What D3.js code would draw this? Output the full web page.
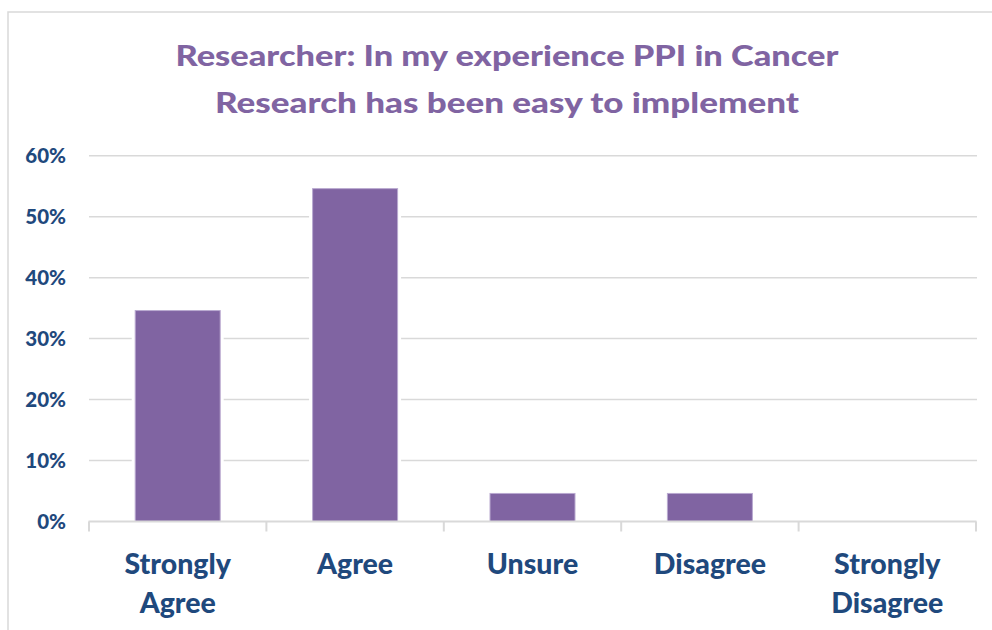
<!DOCTYPE html>
<html><head><meta charset="utf-8">
<script src="https://cdn.jsdelivr.net/npm/d3@7"></script>
<style>body{margin:0;background:#fff;}svg{display:block;}</style>
</head><body>
<script>
const categories = [["Strongly","Agree"],["Agree"],["Unsure"],["Disagree"],["Strongly","Disagree"]];
const values = [34.6, 54.6, 4.6, 4.6, 0];
const yTicks = [0, 10, 20, 30, 40, 50, 60];
const titleLines = ["Researcher: In my experience PPI in Cancer", "Research has been easy to implement"];

const W = 992, H = 630;
const FONT = "Lato, 'Open Sans', sans-serif";
const purple = "#8064A2", navy = "#1F497D", grid = "#D9D9D9";

const svg = d3.select("body").append("svg").attr("width", W).attr("height", H);
svg.append("rect").attr("width", W).attr("height", H).attr("fill", "#fff");
// chart frame
svg.append("rect").attr("x", 8).attr("y", 12).attr("width", W + 20).attr("height", H + 20)
  .attr("fill", "none").attr("stroke", grid).attr("stroke-width", 1.5);

const x = d3.scaleBand().domain(d3.range(categories.length)).range([89, 976]).paddingInner(0).paddingOuter(0);
const y = d3.scaleLinear().domain([0, 60]).range([521.5, 155.7]);

// title
const titleG = svg.append("g");
titleLines.forEach((t, i) => {
  titleG.append("text").attr("x", 507).attr("y", 65.5 + i * 47.5)
    .attr("text-anchor", "middle").attr("font-family", FONT).attr("font-weight", 900)
    .attr("font-size", 29).attr("fill", purple)
    .attr("textLength", i === 0 ? 663 : 584).attr("lengthAdjust", "spacingAndGlyphs")
    .text(t);
});

// gridlines
svg.append("g").selectAll("line").data(yTicks.filter(d => d > 0)).join("line")
  .attr("x1", 89).attr("x2", 977).attr("y1", d => y(d)).attr("y2", d => y(d))
  .attr("stroke", grid).attr("stroke-width", 1.5);

// y labels
svg.append("g").selectAll("text").data(yTicks).join("text")
  .attr("x", 66).attr("y", d => y(d)).attr("dy", "0.36em").attr("text-anchor", "end")
  .attr("font-family", FONT).attr("font-weight", 900).attr("font-size", 20.5).attr("fill", navy)
  .text(d => d + "%");

// bars
const bw = 85;
const bars = svg.append("g");
bars.selectAll("rect.under").data(values).join("rect").attr("class", "under")
  .attr("x", (d, i) => x(i) + x.bandwidth() / 2 - bw / 2).attr("width", bw)
  .attr("y", d => y(d)).attr("height", d => y(0) - y(d))
  .attr("fill", "#fff").attr("stroke", "#fff").attr("stroke-width", d => d > 0 ? 7 : 0);
bars.selectAll("rect.bar").data(values).join("rect").attr("class", "bar")
  .attr("x", (d, i) => x(i) + x.bandwidth() / 2 - bw / 2).attr("width", bw)
  .attr("y", d => y(d)).attr("height", d => y(0) - y(d))
  .attr("fill", purple).attr("stroke", "#B9A9D0").attr("stroke-width", d => d > 0 ? 1 : 0);

// x axis baseline and ticks
svg.append("line").attr("x1", 88.5).attr("x2", 976.5).attr("y1", y(0)).attr("y2", y(0))
  .attr("stroke", grid).attr("stroke-width", 2);
const bounds = d3.range(categories.length + 1).map(i => i < categories.length ? x(i) : x(i - 1) + x.bandwidth());
svg.append("g").selectAll("line").data(bounds).join("line")
  .attr("x1", d => d).attr("x2", d => d).attr("y1", y(0)).attr("y2", y(0) + 10)
  .attr("stroke", grid).attr("stroke-width", 2);

// x labels
const xl = svg.append("g").selectAll("text").data(categories).join("text")
  .attr("text-anchor", "middle").attr("font-family", FONT).attr("font-weight", 900)
  .attr("font-size", 28.5).attr("fill", navy)
  .attr("transform", (d, i) => `translate(${x(i) + x.bandwidth() / 2},0)`);
xl.selectAll("tspan").data(d => d).join("tspan")
  .attr("x", 0).attr("y", (d, j) => 573.5 + j * 39).text(d => d);
</script>
</body></html>
